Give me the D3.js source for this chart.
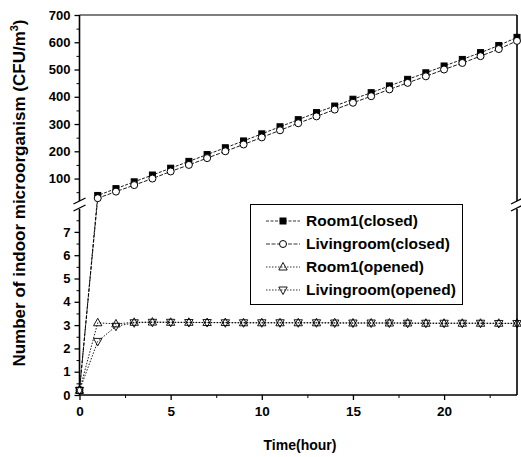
<!DOCTYPE html>
<html>
<head>
<meta charset="utf-8">
<script src="https://cdn.jsdelivr.net/npm/d3@7"></script>
<style>
  body { margin: 0; background: #fff; }
  text { font-family: "Liberation Sans", Arial, sans-serif; font-weight: bold; fill: #000; }
</style>
</head>
<body>
<script>
// hours
var hours = [0, 1, 2, 3, 4, 5, 6, 7, 8, 9, 10, 11, 12, 13, 14, 15, 16, 17, 18, 19, 20, 21, 22, 23, 24]

// CFU/m3
var room1Closed = [0.2, 38, 63, 88, 113, 138, 163, 188, 213, 238, 264, 290, 316, 342, 366, 391, 415, 440, 464, 488, 513, 537, 562, 588, 618]
var livingClosed = [0.2, 28, 52, 76, 100, 126, 150, 175, 200, 225, 251, 277, 303, 328, 353, 378, 402, 427, 451, 475, 500, 524, 549, 575, 605]
var room1Opened = [0.2, 3.1, 3.05, 3.12, 3.13, 3.12, 3.12, 3.11, 3.11, 3.1, 3.1, 3.1, 3.1, 3.1, 3.1, 3.09, 3.09, 3.09, 3.09, 3.08, 3.08, 3.08, 3.08, 3.08, 3.08]
var livingOpened = [0.2, 2.3, 2.95, 3.1, 3.12, 3.12, 3.11, 3.11, 3.1, 3.1, 3.1, 3.1, 3.1, 3.1, 3.09, 3.09, 3.09, 3.09, 3.08, 3.08, 3.08, 3.08, 3.08, 3.07, 3.07]

var seriesNames = ['Room1(closed)', 'Livingroom(closed)', 'Room1(opened)', 'Livingroom(opened)']
var seriesData = [room1Closed, livingClosed, room1Opened, livingOpened]
var seriesMarks = ['square', 'circle', 'up', 'down']
var seriesDash = ['3,1.5', '4,1.5', '1.5,1.5', '1.5,1.5']

var xTicks = [0, 5, 10, 15, 20]
var lowTicks = [0, 1, 2, 3, 4, 5, 6, 7]
var highTicks = [100, 200, 300, 400, 500, 600, 700]

var width = 521
var height = 457
var plotLeft = 79.5
var plotRight = 517
var plotTop = 15
var plotBottom = 395
var breakValue = 8

var svg = d3.select('body').append('svg')
  .attr('width', width)
  .attr('height', height)

var x = d3.scaleLinear().domain([0, 24]).range([plotLeft, plotRight])
var yLow = d3.scaleLinear().domain([0, 8]).range([plotBottom, 208.6])
var yHigh = d3.scaleLinear().domain([25, 700]).range([199, plotTop])

// low values go on the lower segment, the rest on the upper one
function yOf (v) {
  return v <= breakValue ? yLow(v) : yHigh(v)
}

// frame
var frame = svg.append('g').attr('stroke', '#000').attr('fill', 'none')
frame.append('line').attr('x1', plotLeft).attr('x2', plotRight).attr('y1', plotTop).attr('y2', plotTop).attr('stroke-width', 1.2)
frame.append('line').attr('x1', plotLeft).attr('x2', plotRight).attr('y1', plotBottom).attr('y2', plotBottom).attr('stroke-width', 1.6)
;[plotLeft, plotRight].forEach(function (ax) {
  frame.append('line').attr('x1', ax).attr('x2', ax).attr('y1', plotTop).attr('y2', 201).attr('stroke-width', 1.6)
  frame.append('line').attr('x1', ax).attr('x2', ax).attr('y1', 209).attr('y2', plotBottom).attr('stroke-width', 1.6)
  ;[201, 208].forEach(function (by) {
    frame.append('line')
      .attr('x1', ax - 6).attr('y1', by + 3)
      .attr('x2', ax + 6).attr('y2', by - 3)
      .attr('stroke-width', 1.3)
  })
})

// x axis
var xAxis = d3.axisBottom(x).tickValues(xTicks).tickSize(5).tickSizeOuter(0).tickFormat(d3.format('d'))
var gx = svg.append('g').attr('transform', 'translate(0,' + plotBottom + ')').call(xAxis)
gx.select('.domain').remove()
gx.selectAll('.tick line').attr('stroke-width', 1.3)
gx.selectAll('text').attr('font-size', 13.5).attr('dy', '0.95em').attr('font-family', null)
var gxm = svg.append('g').attr('transform', 'translate(0,' + plotBottom + ')')
  .call(d3.axisBottom(x).tickValues([2.5, 7.5, 12.5, 17.5, 22.5]).tickSize(3).tickFormat(''))
gxm.select('.domain').remove()

// y axes
function yAxisPart (scale, major, minor) {
  var g = svg.append('g').attr('transform', 'translate(' + plotLeft + ',0)')
    .call(d3.axisLeft(scale).tickValues(major).tickSize(5).tickPadding(4))
  g.select('.domain').remove()
  g.selectAll('.tick line').attr('stroke-width', 1.3)
  g.selectAll('text').attr('font-size', 13).attr('font-family', null)
  var gm = svg.append('g').attr('transform', 'translate(' + plotLeft + ',0)')
    .call(d3.axisLeft(scale).tickValues(minor).tickSize(3).tickFormat(''))
  gm.select('.domain').remove()
}
yAxisPart(yLow, lowTicks, [0.5, 1.5, 2.5, 3.5, 4.5, 5.5, 6.5, 7.5])
yAxisPart(yHigh, highTicks, [50, 150, 250, 350, 450, 550, 650])

// axis titles
svg.append('text')
  .attr('transform', 'translate(25,193) rotate(-90)')
  .attr('text-anchor', 'middle')
  .attr('font-size', 17)
  .html('Number of indoor microorganism (CFU/m<tspan dy="-7" font-size="11">3</tspan><tspan dy="7">)</tspan>')

svg.append('text')
  .attr('x', 300).attr('y', 450)
  .attr('text-anchor', 'middle')
  .attr('font-size', 14)
  .text('Time(hour)')

// markers
function drawMark (g, kind, cx, cy) {
  if (kind === 'square') {
    g.append('rect').attr('x', cx - 3).attr('y', cy - 3).attr('width', 6).attr('height', 6)
      .attr('fill', '#000').attr('stroke', '#000')
  } else if (kind === 'circle') {
    g.append('circle').attr('cx', cx).attr('cy', cy).attr('r', 3.5)
      .attr('fill', '#fff').attr('stroke', '#000').attr('stroke-width', 1)
  } else {
    var s = kind === 'up' ? 1 : -1
    var pts = [[cx, cy - 4.5 * s], [cx - 4.2, cy + 3 * s], [cx + 4.2, cy + 3 * s]]
    g.append('path').attr('d', 'M' + pts.join('L') + 'Z')
      .attr('fill', 'none').attr('stroke', '#000').attr('stroke-width', 0.9)
  }
}

var line = d3.line()
  .x(function (d, i) { return x(hours[i]) })
  .y(function (d) { return yOf(d) })

var plot = svg.append('g')
seriesData.forEach(function (vals, k) {
  plot.append('path')
    .datum(vals)
    .attr('d', line)
    .attr('fill', 'none')
    .attr('stroke', '#000')
    .attr('stroke-width', 0.9)
    .attr('stroke-dasharray', seriesDash[k])
})
seriesData.forEach(function (vals, k) {
  var g = plot.append('g')
  vals.forEach(function (v, i) {
    drawMark(g, seriesMarks[k], x(hours[i]), yOf(v))
  })
})

// legend
var lg = svg.append('g')
lg.append('rect').attr('x', 250.5).attr('y', 204.5).attr('width', 212).attr('height', 100)
  .attr('fill', '#fff').attr('stroke', '#000').attr('stroke-width', 1)
seriesNames.forEach(function (name, k) {
  var ly = 221 + k * 23
  lg.append('line').attr('x1', 266).attr('x2', 300).attr('y1', ly).attr('y2', ly)
    .attr('stroke', '#000').attr('stroke-width', 0.8).attr('stroke-dasharray', seriesDash[k])
  drawMark(lg, seriesMarks[k], 283, ly)
  lg.append('text').attr('x', 306).attr('y', ly + 5).attr('font-size', 15.5).text(name)
})
</script>
</body>
</html>
